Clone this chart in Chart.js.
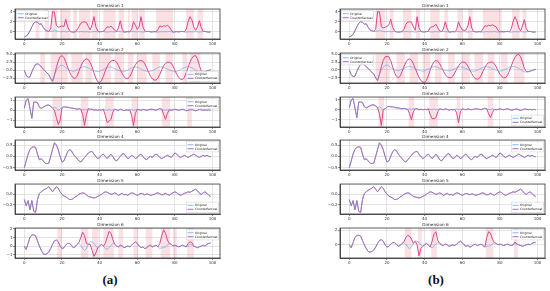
<!DOCTYPE html>
<html>
<head>
<meta charset="utf-8">
<script src="https://cdn.jsdelivr.net/npm/chart.js@4.4.1/dist/chart.umd.min.js"></script>
<style>
  body { margin: 0; background: #fff; width: 550px; height: 291px; overflow: hidden; position: relative; }
  canvas { position: absolute; }
  .tag { position: absolute; width: 40px; text-align: center; font: bold 13px "Liberation Serif", serif; color: #111; }
</style>
</head>
<body>
<div class="tag" style="left:90px;top:272px">(a)</div>
<div class="tag" style="left:416px;top:272px">(b)</div>
<script>
/* ============================================================
   DATA
   ============================================================ */

const X_TICKS = [0, 20, 40, 60, 80, 100];
const DIM_TITLES = ['Dimension 1', 'Dimension 2', 'Dimension 3', 'Dimension 4', 'Dimension 5', 'Dimension 6'];

// original series (same input in both panels), x = 0..99
const ORIG_D1 = [
  -1.0,-0.8,-0.5,0.2,1.0,1.7,2.0,1.9,1.5,1.6,
  0.9,0.4,0.2,0.1,0.1,0.15,0.3,0.2,0.1,0.0,
  0.05,0.1,0.0,0.05,0.1,0.0,-0.05,0.0,0.05,0.0,
  0.1,0.05,0.0,0.05,0.0,-0.05,0.0,0.1,0.05,0.0,
  0.0,0.05,0.1,0.0,-0.05,0.0,0.05,0.0,0.0,0.05,
  0.1,0.05,0.0,-0.05,0.0,0.05,0.0,0.05,0.1,0.0,
  0.0,0.05,0.0,-0.05,0.0,0.05,0.1,0.0,0.0,0.05,
  0.0,-0.05,0.0,0.05,0.0,0.05,0.0,0.1,0.0,-0.05,
  0.0,0.05,0.0,0.05,0.1,0.0,-0.05,0.0,0.05,0.0,
  0.0,0.05,0.0,-0.05,0.0,0.05,0.1,0.0,-0.05,0.0
];
const ORIG_D2 = [
  0.0,-1.5,-2.2,-2.0,-0.5,0.8,1.8,2.0,1.7,1.0,
  0.5,-0.2,-0.8,-1.3,-2.5,-3.3,-1.5,0.0,0.8,1.4,
  1.6,1.3,0.8,0.3,0.0,-0.2,-0.3,-0.1,0.2,0.5,
  0.8,1.0,1.1,1.0,0.7,0.4,0.1,-0.1,-0.3,-0.4,
  -0.3,0.0,0.3,0.6,0.9,1.0,1.0,0.8,0.5,0.2,
  0.0,-0.2,-0.3,-0.3,-0.2,0.1,0.4,0.7,0.9,1.0,
  0.9,0.7,0.4,0.1,-0.1,-0.3,-0.4,-0.3,-0.1,0.2,
  0.5,0.8,1.0,1.0,0.9,0.7,0.4,0.1,-0.1,-0.3,
  -0.4,-0.3,-0.1,0.2,0.5,0.8,1.0,1.1,1.0,0.8,
  0.5,0.1,-0.3,-0.6,-0.7,-0.6,-0.4,-0.2,0.0,0.2
];
const ORIG_D3 = [
  0.2,1.0,1.15,0.2,-0.8,0.8,0.8,0.75,0.3,0.2,
  0.3,0.4,0.5,0.5,0.4,0.2,0.3,0.2,0.0,0.1,
  0.3,0.35,0.3,0.3,0.25,0.2,0.2,0.15,0.1,0.15,
  0.1,0.05,0.1,0.05,0.15,0.1,0.1,0.0,0.05,0.0,
  0.05,0.0,0.1,0.05,0.0,0.1,0.0,0.05,0.1,0.05,
  0.0,0.1,0.05,-0.05,0.05,0.0,0.05,0.1,0.0,0.05,
  0.1,0.05,0.0,0.1,0.05,0.0,0.05,0.1,0.1,0.05,
  0.0,0.1,0.15,0.1,0.05,0.0,0.1,0.05,0.0,0.05,
  0.1,0.05,0.0,0.05,0.1,0.05,-0.05,0.0,0.05,0.1,
  0.0,-0.05,0.0,0.1,0.05,0.0,0.05,0.0,0.05,0.0
];
const ORIG_D4 = [
  -0.5,-0.2,0.1,0.3,0.4,0.42,0.4,0.1,-0.15,-0.1,
  -0.2,-0.3,-0.32,-0.3,0.0,0.3,0.6,0.5,0.3,0.0,
  -0.25,-0.2,0.0,0.2,0.3,0.25,0.1,0.0,-0.1,-0.2,
  -0.25,-0.15,-0.05,0.05,0.15,0.2,0.22,0.1,0.0,-0.1,
  -0.05,0.05,0.1,0.0,-0.1,0.0,0.1,0.0,-0.15,-0.2,
  -0.1,0.0,0.1,0.12,0.0,-0.1,-0.05,0.05,0.0,-0.1,
  -0.05,0.05,0.1,0.0,-0.1,-0.15,-0.05,0.0,-0.05,0.05,
  0.1,0.05,-0.05,-0.1,-0.05,0.0,0.05,0.0,-0.05,0.05,
  0.15,0.1,0.0,-0.05,0.0,0.05,0.0,-0.05,0.0,0.05,
  0.1,0.05,0.0,-0.05,0.0,0.05,0.0,0.05,0.0,-0.02
];
const ORIG_D5 = [
  -0.1,-0.22,-0.12,-0.3,-0.12,-0.33,-0.35,-0.1,0.02,0.05,
  0.08,0.1,0.12,0.15,0.1,0.05,0.1,0.15,0.12,0.05,
  0.0,-0.03,-0.05,-0.07,-0.1,-0.1,-0.08,-0.05,-0.03,0.0,
  0.02,0.03,0.02,-0.01,-0.04,-0.05,-0.06,-0.07,-0.06,-0.04,
  -0.02,0.0,0.03,0.05,0.04,0.02,0.0,0.01,0.03,0.01,
  -0.02,0.0,0.02,-0.01,0.0,-0.02,0.01,0.03,0.02,0.0,
  -0.02,0.0,0.02,0.01,-0.01,0.01,0.0,-0.02,-0.01,0.0,
  0.02,0.03,0.01,-0.01,0.0,0.02,0.0,-0.02,0.01,0.03,
  0.05,0.03,0.0,-0.02,0.0,0.02,0.03,0.05,0.04,0.06,
  0.08,0.1,0.07,0.02,0.0,0.03,0.05,0.02,-0.02,-0.04
];
const ORIG_D6 = [
  0.0,-0.4,0.3,1.0,1.3,1.3,1.2,0.6,0.0,-0.5,
  -0.9,-1.0,-0.9,-0.7,-0.3,0.2,0.6,0.7,0.5,0.0,
  -0.3,-0.2,0.1,0.3,0.3,0.1,-0.2,-0.1,0.2,0.3,
  0.1,-0.3,-0.5,-0.3,0.2,0.5,0.5,0.3,0.0,-0.2,
  0.0,0.2,0.0,-0.3,-0.4,-0.2,0.1,0.3,0.2,0.0,
  -0.1,0.1,0.0,-0.2,-0.1,0.0,-0.1,0.1,0.3,0.5,
  0.3,0.0,-0.2,-0.1,-0.3,-0.2,0.0,0.1,-0.1,0.0,
  0.1,-0.1,-0.3,-0.2,-0.2,-0.1,0.1,0.3,0.2,0.0,
  0.1,0.0,-0.1,0.0,0.1,0.0,-0.1,0.0,0.2,0.1,
  0.0,-0.1,-0.2,-0.1,0.0,0.1,0.0,0.2,0.3,0.35
];

// counterfactual = original with these segments replaced: [start index, values]
const CF_A_D1 = [
  [14, [0.6,4.0,3.9,1.3,0.9,1.0,1.2,1.0,2.5,1.0,0.3]],
  [28, [0.4,1.0,1.7,1.9,2.0,1.8,1.1,0.4,1.4,3.0,1.0,0.2]],
  [43, [0.5,1.0,0.9,1.1,0.8,0.3]],
  [50, [0.8,2.2,0.5]],
  [57, [0.5,2.0,1.3,0.5,1.0,3.0,1.0,0.2]],
  [71, [0.5,1.2,1.0,1.2,1.1,1.3,1.0,0.4]],
  [86, [0.5,2.0,3.0,2.4,1.0,0.3,1.0,2.2,0.8,0.1]]
];
const CF_A_D2 = [
  [14, [-2.6,-3.4,-1.5,0.8,2.8,4.2,4.5,4.0,2.6,1.0,
        -0.5,-1.6,-2.3,-2.5,-1.8,-0.3,1.2,2.4,3.2,3.5,
        3.3,2.4,1.0,-0.8,-2.4,-3.5,-3.8,-3.2,-1.8,-0.2,
        1.2,2.2,2.8,3.0,3.0,2.5,1.5,0.2,-1.0,-2.0,
        -2.5,-2.5,-2.0,-0.8,0.6,1.7,2.5,2.9,3.0,2.8,
        2.0,0.8,-0.6,-1.8,-2.6,-3.0,-3.0,-2.4,-1.2,0.2,
        1.4,2.1,2.5,2.5,2.2,1.3,0.0,-1.3,-2.2,-2.7,
        -2.8,-2.2,-0.8,0.9,2.5,3.7,4.4,4.5,3.5,1.5,
        -0.2,-0.6]]
];
const CF_A_D3 = [
  [16, [0.0,-0.7,-1.4,-1.0,0.2]],
  [31, [-0.4,-1.5,-0.4]],
  [43, [-0.5,-1.2,-1.1,-0.9,-0.2]],
  [57, [-0.5,-1.5,-0.3]],
  [74, [-0.4,-0.9,-0.3]]
];
const CF_A_D4 = [];
const CF_A_D5 = [];
const CF_A_D6 = [
  [29, [0.4,1.0,1.6,1.2,0.3]],
  [35, [0.2,-0.5,-1.2,-0.8,-0.2]],
  [43, [0.3,1.0,1.7,1.5,0.8]],
  [72, [0.3,1.2,1.9,1.5,0.7]],
  [87, [0.3,0.5,0.4]]
];

const CF_B_D1 = [
  [14, [0.5,4.0,4.0,1.0,0.8,0.9,1.1,1.4,2.5,0.9,0.2]],
  [29, [0.5,1.5,1.9,2.0,1.9,1.0,0.3,3.0,0.8,0.1]],
  [43, [0.9,1.0,1.1,1.5,0.8,0.2]],
  [50, [0.6,2.0,0.6]],
  [57, [0.4,2.0,1.0,0.4,0.3,0.4,1.2,3.0,0.8,0.1]],
  [71, [0.6,1.2,1.1,1.3,1.2,1.4,1.2,1.0,0.3]],
  [86, [0.6,2.0,3.0,2.2,0.8,0.2,1.2,2.4,0.6,0.1]]
];
const CF_B_D2 = [
  [14, [-2.6,-3.4,-1.4,1.0,3.0,4.2,4.3,4.2,3.0,1.0,
        -0.8,-2.0,-2.5,-2.0,-0.6,1.0,2.4,3.3,3.5,3.1,
        2.0,0.5,-1.0,-2.4,-3.4,-3.9,-4.0,-3.3,-1.8,0.0,
        1.6,2.6,3.0,2.8,2.0,0.8,-0.4,-1.5,-2.2,-2.5,
        -2.5,-2.0,-1.0,0.2,1.3,2.1,2.5,2.5,2.1,1.2,
        0.0,-1.2,-2.2,-2.8,-3.0,-2.7,-1.8,-0.5,0.8,1.8,
        2.3,2.5,2.5,2.0,1.0,-0.3,-1.4,-2.1,-2.5,-2.5,
        -1.8,-0.4,1.2,2.8,4.0,4.8,5.0,4.2,2.5,0.5,
        -0.5]]
];
const CF_B_D3 = [
  [16, [-0.4,-1.6,0.0]],
  [32, [-0.4,-1.0,-0.2]],
  [43, [-0.5,-0.9,-0.9,-0.8,-0.2]],
  [57, [-0.3,-1.3,-0.2]],
  [74, [-0.4,-0.8,-0.3]]
];
const CF_B_D4 = [];
const CF_B_D5 = [];
const CF_B_D6 = [
  [29, [0.4,1.0,1.3,1.2,0.8,0.2]],
  [36, [0.0,-1.5,-0.5]],
  [44, [0.5,1.5,1.8,0.6]],
  [73, [1.0,1.8,1.6,0.8]],
  [88, [0.4]]
];

// highlighted (changed) time ranges
const SPAN_A_D1 = [[6,8],[11,13],[14.5,17.5],[19,24.5],[26,28],[29,35],[36,39],[42,48.5],[50,53],[55,56],[57,60],[61,64],[70,79],[86,90],[92,95]];
const SPAN_A_D2 = [[8.5,11],[14,23],[25,31],[32.5,36],[40,46],[48,53],[55,58],[60,65],[68,72],[75,79],[84,86.5],[88,93.5]];
const SPAN_A_D3 = [[15,20],[30,34],[43,47.5],[57,60.5],[73,77.5],[86.5,89]];
const SPAN_A_D6 = [[17.5,20],[30,34],[36,39.5],[42,47.5],[50,52.5],[58,60.5],[64.5,68],[72.5,77.5],[79,81],[86.5,90]];
const SPAN_B_D1 = [[14,19],[21.5,23.5],[28.5,33],[35.5,37.5],[43,48],[50.5,52.5],[57.5,60],[63,65.5],[71,81],[86.5,90.5],[92,94]];
const SPAN_B_D2 = [[14,21.5],[25,29.5],[32,36.5],[39,43],[45.5,49],[52.5,56],[59.5,64],[66.5,71],[73.5,77],[80.5,84],[87.5,93]];
const SPAN_B_D3 = [[15.5,18.5],[31.5,34.5],[42.5,47],[57,59],[73.5,76.5]];
const SPAN_B_D6 = [[29.5,33],[36.5,38.5],[43.5,46.5],[72.5,76.5],[87.5,89.5]];

// y axis ranges and tick labels per dimension
const Y_RANGE_A = [[-1.4,4.5],[-3.9,5.3],[-1.65,1.3],[-0.6,0.72],[-0.38,0.2],[-1.4,2.1]];
const Y_RANGE_B = [[-1.4,4.5],[-4.2,5.4],[-1.75,1.3],[-0.6,0.72],[-0.38,0.2],[-1.8,2.3]];
const Y_TICKS_A = [[0,2,4],[-2.5,0,2.5,5],[-1,0,1],[-0.5,0,0.5],[-0.2,0],[-1,0,1,2]];
const Y_TICKS_B = [[0,2,4],[-2.5,0,2.5,5],[-1,0,1],[-0.5,0,0.5],[-0.2,0],[0,2]];
const Y_LABELS_A = [['0','2','4'],['\u22122.5','0.0','2.5','5.0'],['\u22121','0','1'],['\u22120.5','0.0','0.5'],['\u22120.2','0.0'],['\u22121','0','1','2']];
const Y_LABELS_B = [['0','2','4'],['\u22122.5','0.0','2.5','5.0'],['\u22121','0','1'],['\u22120.5','0.0','0.5'],['\u22120.2','0.0'],['0','2']];

const LEGEND_A = ['ul','lr','ur','ur','lr','ur'];
const LEGEND_B = ['ul','ul','lr','ur','lr','ur'];

/* ============================================================
   LAYOUT / STYLE
   ============================================================ */
const PANEL_LEFT = { a: 15, b: 340 };
const BOX_W = 205;
const BOX_H = 30;
const BOX_TOPS = [9, 53, 97, 140, 184, 228];
const Y_W = 14, T_H = 9, X_H = 8, R_PAD = 6;

// original drawn on top, semi transparent -> blue-violet where both overlap
const C_ORIG = 'rgba(90,160,235,0.6)';
const C_CF = 'rgb(220,70,140)';
const C_SPAN = 'rgba(235,100,120,0.2)';

/* ============================================================
   PLUGINS
   ============================================================ */
const spanPlugin = {
  id: 'spans',
  beforeDatasetsDraw(chart, args, opts) {
    const { ctx, chartArea: a, scales: { x } } = chart;
    ctx.save();
    ctx.fillStyle = C_SPAN;
    (opts.ranges || []).forEach(([x0, x1]) => {
      const p0 = x.getPixelForValue(x0), p1 = x.getPixelForValue(x1);
      ctx.fillRect(p0, a.top, p1 - p0, a.bottom - a.top);
    });
    ctx.restore();
  }
};

const framePlugin = {
  id: 'frame',
  afterDraw(chart) {
    const { ctx, chartArea: a } = chart;
    ctx.save();
    ctx.strokeStyle = '#333';
    ctx.lineWidth = 0.8;
    ctx.strokeRect(a.left, a.top, a.right - a.left, a.bottom - a.top);
    ctx.restore();
  }
};

const insetLegend = {
  id: 'insetLegend',
  afterDatasetsDraw(chart, args, opts) {
    const { ctx, chartArea: a } = chart;
    const fs = 3, rowH = 4, pad = 1.2, handle = 6, gap = 1.5, inset = 1.5;
    ctx.save();
    ctx.font = fs + 'px "DejaVu Sans"';
    const items = chart.data.datasets;
    const tw = Math.max(...items.map(d => ctx.measureText(d.label).width));
    const w = pad * 2 + handle + gap + tw;
    const h = pad * 2 + rowH * items.length;
    const c = opts.corner;
    const lx = c[1] === 'l' ? a.left + inset : a.right - inset - w;
    const ly = c[0] === 'u' ? a.top + inset : a.bottom - inset - h;
    ctx.fillStyle = 'rgba(255,255,255,0.8)';
    ctx.strokeStyle = '#cccccc';
    ctx.lineWidth = 0.5;
    ctx.fillRect(lx, ly, w, h);
    ctx.strokeRect(lx, ly, w, h);
    items.forEach((d, i) => {
      const cy = ly + pad + rowH * i + rowH / 2;
      ctx.strokeStyle = d.legendColor;
      ctx.lineWidth = 0.9;
      ctx.beginPath();
      ctx.moveTo(lx + pad, cy);
      ctx.lineTo(lx + pad + handle, cy);
      ctx.stroke();
      ctx.fillStyle = '#222';
      ctx.textBaseline = 'middle';
      ctx.fillText(d.label, lx + pad + handle + gap, cy);
    });
    ctx.restore();
  }
};

/* ============================================================
   BUILD
   ============================================================ */
const applyEdits = (base, edits) => {
  const out = base.slice();
  edits.forEach(([start, vals]) => vals.forEach((v, i) => { out[start + i] = v; }));
  return out;
};
const toPoints = arr => arr.map((v, i) => ({ x: i, y: v }));

const ORIG = [ORIG_D1, ORIG_D2, ORIG_D3, ORIG_D4, ORIG_D5, ORIG_D6];
const PANELS = {
  a: {
    cf: [CF_A_D1, CF_A_D2, CF_A_D3, CF_A_D4, CF_A_D5, CF_A_D6],
    spans: [SPAN_A_D1, SPAN_A_D2, SPAN_A_D3, [], [], SPAN_A_D6],
    yr: Y_RANGE_A, yt: Y_TICKS_A, yl: Y_LABELS_A, leg: LEGEND_A
  },
  b: {
    cf: [CF_B_D1, CF_B_D2, CF_B_D3, CF_B_D4, CF_B_D5, CF_B_D6],
    spans: [SPAN_B_D1, SPAN_B_D2, SPAN_B_D3, [], [], SPAN_B_D6],
    yr: Y_RANGE_B, yt: Y_TICKS_B, yl: Y_LABELS_B, leg: LEGEND_B
  }
};

const tickFont = { family: 'DejaVu Sans', size: 4 };

Object.keys(PANELS).forEach(key => {
  const P = PANELS[key];
  for (let d = 0; d < 6; d++) {
    const cv = document.createElement('canvas');
    const w = Y_W + BOX_W + R_PAD, h = T_H + BOX_H + X_H;
    cv.width = w; cv.height = h;
    cv.style.left = (PANEL_LEFT[key] - Y_W) + 'px';
    cv.style.top = (BOX_TOPS[d] - T_H) + 'px';
    cv.style.width = w + 'px'; cv.style.height = h + 'px';
    document.body.appendChild(cv);

    const yTicks = P.yt[d], yLabels = P.yl[d];
    new Chart(cv, {
      type: 'line',
      data: {
        datasets: [
          { label: 'Original', data: toPoints(ORIG[d]), borderColor: C_ORIG, legendColor: 'rgb(120,180,235)',
            borderWidth: 1, pointRadius: 0, tension: 0, order: 0 },
          { label: 'Counterfactual', data: toPoints(applyEdits(ORIG[d], P.cf[d])), borderColor: C_CF,
            legendColor: 'rgb(150,90,190)', borderWidth: 1, pointRadius: 0, tension: 0, order: 1 }
        ]
      },
      options: {
        responsive: false,
        animation: false,
        devicePixelRatio: 1,
        layout: { padding: { left: 0, right: R_PAD, top: 0, bottom: 0 } },
        plugins: {
          legend: { display: false },
          tooltip: { enabled: false },
          title: { display: true, text: DIM_TITLES[d], color: '#222',
                   font: { family: 'DejaVu Sans', size: 4.2, weight: 'normal' },
                   padding: { top: 3.5, bottom: 0.5 } },
          spans: { ranges: P.spans[d] },
          insetLegend: { corner: P.leg[d] }
        },
        scales: {
          x: {
            type: 'linear', min: -4.95, max: 103.95,
            afterBuildTicks: s => { s.ticks = X_TICKS.map(v => ({ value: v })); },
            afterFit: s => { s.height = X_H; },
            ticks: { font: tickFont, color: '#333', padding: 0.5, maxRotation: 0, autoSkip: false,
                     callback: v => String(v) },
            grid: { color: '#d2d2d2', lineWidth: 0.6, tickLength: 2, tickColor: '#444' },
            border: { color: '#333', width: 0.8 }
          },
          y: {
            min: P.yr[d][0], max: P.yr[d][1],
            afterBuildTicks: s => { s.ticks = yTicks.map(v => ({ value: v })); },
            afterFit: s => { s.width = Y_W; },
            ticks: { font: tickFont, color: '#333', padding: 0.5, autoSkip: false,
                     callback: v => yLabels[yTicks.indexOf(v)] },
            grid: { color: '#d2d2d2', lineWidth: 0.6, tickLength: 2, tickColor: '#444' },
            border: { color: '#333', width: 0.8 }
          }
        }
      },
      plugins: [spanPlugin, insetLegend, framePlugin]
    });
  }
});
</script>
</body>
</html>
